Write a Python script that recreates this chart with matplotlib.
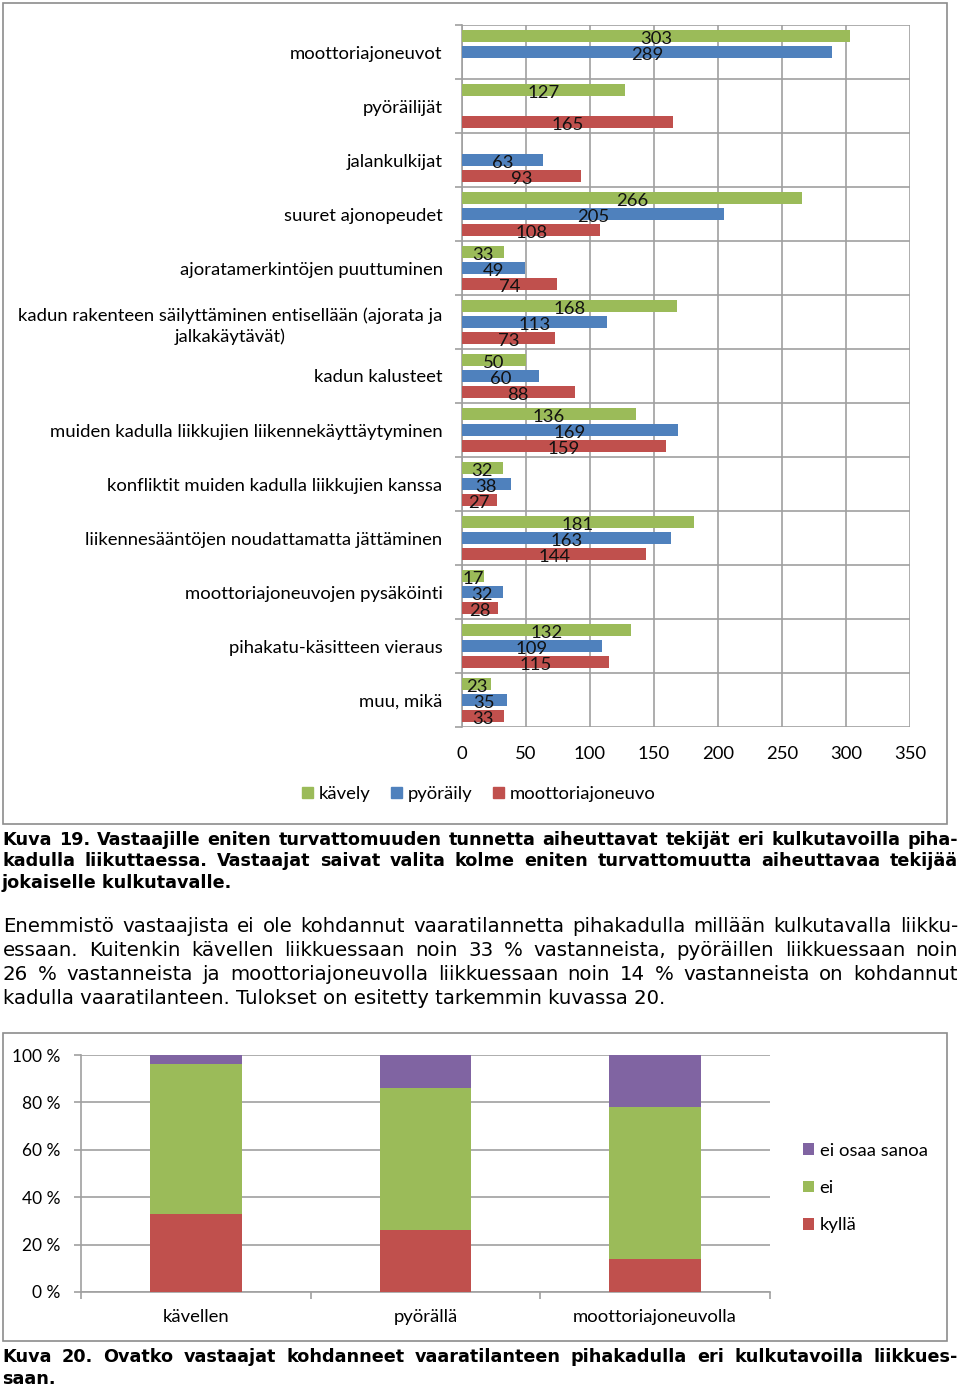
import numpy as np
import matplotlib.pyplot as plt
from matplotlib.patches import Rectangle

W, H = 960, 1387

# Kuva 19 data
factors = ['moottoriajoneuvot', 'pyöräilijät', 'jalankulkijat', 'suuret ajonopeudet',
           'ajoratamerkintöjen puuttuminen',
           'kadun rakenteen säilyttäminen entisellään (ajorata ja\njalkakäytävät)',
           'kadun kalusteet', 'muiden kadulla liikkujien liikennekäyttäytyminen',
           'konfliktit muiden kadulla liikkujien kanssa',
           'liikennesääntöjen noudattamatta jättäminen',
           'moottoriajoneuvojen pysäköinti', 'pihakatu-käsitteen vieraus', 'muu, mikä']
kavely = [303, 127, None, 266, 33, 168, 50, 136, 32, 181, 17, 132, 23]
pyoraily = [289, None, 63, 205, 49, 113, 60, 169, 38, 163, 32, 109, 35]
moottori = [None, 165, 93, 108, 74, 73, 88, 159, 27, 144, 28, 115, 33]
series_names = ['kävely', 'pyöräily', 'moottoriajoneuvo']

# Kuva 20 data (%)
modes = ['kävellen', 'pyörällä', 'moottoriajoneuvolla']
kylla = [33, 26, 14]
ei = [63, 60, 64]
eos = [4, 14, 22]

GREEN, BLUE, RED, PURPLE = '#9BBB59', '#4F81BD', '#C0504D', '#8064A2'
GRID = '#A0A0A0'
CF = 'Lato'
FS = 13.3

fig = plt.figure(figsize=(W / 100, H / 100), dpi=100)


def fx(x):
    return x / W


def fy(y):
    return 1 - y / H


def box(x0, y0, x1, y1):
    fig.patches.append(Rectangle((fx(x0), fy(y1)), fx(x1) - fx(x0), fy(y0) - fy(y1),
                                 transform=fig.transFigure, fill=False,
                                 edgecolor='#8C8C8C', lw=1.2))


box(3, 3, 947, 824)
box(3, 1033, 947, 1341)

# ---- top chart ----
ax = fig.add_axes([fx(462), fy(727), fx(910) - fx(462), fy(25) - fy(727)])
n = len(factors)
pos = np.arange(n)
h = 0.23
off = 0.296
for vals, col, d in [(kavely, GREEN, -off), (pyoraily, BLUE, 0), (moottori, RED, off)]:
    idx = [i for i, v in enumerate(vals) if v is not None]
    w = [vals[i] for i in idx]
    ax.barh(pos[idx] + d, w, height=h, color=col, zorder=3)
    for i, v in zip(idx, w):
        ax.text(v / 2, pos[i] + d + 0.06, str(v), ha='center', va='center',
                fontsize=FS, family=CF, color='#111111', zorder=4)

ax.set_xlim(0, 350)
ax.set_ylim(n - 0.5, -0.5)
ax.set_xticks(np.arange(0, 351, 50))
ax.set_yticks(np.arange(-0.5, n, 1))
ax.set_yticklabels([])
ax.set_yticks(pos, minor=True)
ax.set_yticklabels(factors, minor=True)
ax.tick_params(axis='y', which='major', length=5, color=GRID, width=1.2)
ax.tick_params(axis='y', which='minor', length=0, pad=14, labelsize=FS)
ax.tick_params(axis='x', length=0, pad=14, labelsize=FS)
for lab in ax.get_yticklabels(minor=True):
    lab.set_multialignment('center')
    lab.set_linespacing(1.35)
    lab.set_family(CF)
for lab in ax.get_xticklabels():
    lab.set_family(CF)
ax.grid(True, which='major', color=GRID, lw=1.2, zorder=0)
for s in ax.spines.values():
    s.set_visible(False)
ax.spines['left'].set_visible(True)
ax.spines['left'].set_color(GRID)
ax.spines['left'].set_linewidth(1.2)

handles = [Rectangle((0, 0), 1, 1, color=c) for c in (GREEN, BLUE, RED)]
fig.legend(handles, series_names, loc='center', bbox_to_anchor=(fx(479), fy(794)),
           ncol=3, frameon=False, handlelength=0.6, handleheight=0.6,
           handletextpad=0.32, columnspacing=1.1, prop={'family': CF, 'size': 13.3})

# ---- bottom chart ----
ax2 = fig.add_axes([fx(81), fy(1292), fx(770) - fx(81), fy(1055) - fy(1292)])
xp = np.arange(len(modes))
bw = 0.4
k = np.array(kylla)
e = np.array(ei)
o = np.array(eos)
ax2.bar(xp, k, bw, color=RED, zorder=3, label='kyllä')
ax2.bar(xp, e, bw, bottom=k, color=GREEN, zorder=3, label='ei')
ax2.bar(xp, o, bw, bottom=k + e, color=PURPLE, zorder=3, label='ei osaa sanoa')
ax2.set_xlim(-0.5, len(modes) - 0.5)
ax2.set_ylim(0, 100)
ax2.set_yticks(np.arange(0, 101, 20))
ax2.set_yticklabels([f'{v} %' for v in range(0, 101, 20)])
ax2.set_xticks(np.arange(-0.5, len(modes), 1))
ax2.set_xticklabels([])
ax2.set_xticks(xp, minor=True)
ax2.set_xticklabels(modes, minor=True)
ax2.tick_params(axis='x', which='major', length=5, color=GRID, width=1.2)
ax2.tick_params(axis='x', which='minor', length=0, pad=12, labelsize=FS)
ax2.tick_params(axis='y', length=5, color=GRID, width=1.2, pad=10, labelsize=12.5)
for lab in ax2.get_xticklabels(minor=True) + ax2.get_yticklabels():
    lab.set_family(CF)
ax2.grid(True, axis='y', color=GRID, lw=1.2, zorder=0)
for s in ['top', 'right']:
    ax2.spines[s].set_visible(False)
for s in ['left', 'bottom']:
    ax2.spines[s].set_color(GRID)
    ax2.spines[s].set_linewidth(1.2)
hh, ll = ax2.get_legend_handles_labels()
fig.legend(hh[::-1], ll[::-1], loc='center left', bbox_to_anchor=(fx(786), fy(1188)),
           frameon=False, handlelength=0.6, handleheight=0.6, handletextpad=0.32,
           labelspacing=1.15, prop={'family': CF, 'size': FS})

# ---- document text ----
renderer = fig.canvas.get_renderer()


def width_of(s, kw):
    t = fig.text(0, 0, s, **kw)
    wpx = t.get_window_extent(renderer).width
    t.remove()
    return wpx


def fit_size(text, x0, x1, bold):
    kw = dict(fontsize=10, family='DejaVu Sans', fontweight='bold' if bold else 'normal')
    return 10 * (x1 - x0) * 0.99 / width_of(text, kw)


def line(text, y, x0, x1, size, bold=False, justify=True):
    kw = dict(fontsize=size, family='DejaVu Sans', fontweight='bold' if bold else 'normal')
    if not justify:
        fig.text(fx(x0), fy(y), text, va='center', ha='left', **kw)
        return
    words = text.split(' ')
    widths = [width_of(wd, kw) for wd in words]
    gap = (x1 - x0 - sum(widths)) / (len(words) - 1)
    x = x0
    for wd, wi in zip(words, widths):
        fig.text(fx(x), fy(y), wd, va='center', ha='left', **kw)
        x += wi + gap


cap19 = ['Kuva 19. Vastaajille eniten turvattomuuden tunnetta aiheuttavat tekijät eri kulkutavoilla piha-',
         'kadulla liikuttaessa. Vastaajat saivat valita kolme eniten turvattomuutta aiheuttavaa tekijää',
         'jokaiselle kulkutavalle.']
para = ['Enemmistö vastaajista ei ole kohdannut vaaratilannetta pihakadulla millään kulkutavalla liikku-',
        'essaan. Kuitenkin kävellen liikkuessaan noin 33 % vastanneista, pyöräillen liikkuessaan noin',
        '26 % vastanneista ja moottoriajoneuvolla liikkuessaan noin 14 % vastanneista on kohdannut',
        'kadulla vaaratilanteen. Tulokset on esitetty tarkemmin kuvassa 20.']
cap20 = ['Kuva 20. Ovatko vastaajat kohdanneet vaaratilanteen pihakadulla eri kulkutavoilla liikkues-',
         'saan.']

s19 = min(fit_size(t, 2, 958, True) for t in cap19[:2])
for t, y, j in zip(cap19, [840, 861, 883], [True, True, False]):
    line(t, y, 2, 958, s19, bold=True, justify=j)

sp = min(fit_size(t, 3, 958, False) for t in para[:3])
for t, y, j in zip(para, [926, 950, 974, 998], [True, True, True, False]):
    line(t, y, 3, 958, sp, justify=j)

s20 = min(s19, fit_size(cap20[0], 2, 958, True))
for t, y, j in zip(cap20, [1357, 1379], [True, False]):
    line(t, y, 2, 958, s20, bold=True, justify=j)

fig.savefig('out.png', dpi=100)
